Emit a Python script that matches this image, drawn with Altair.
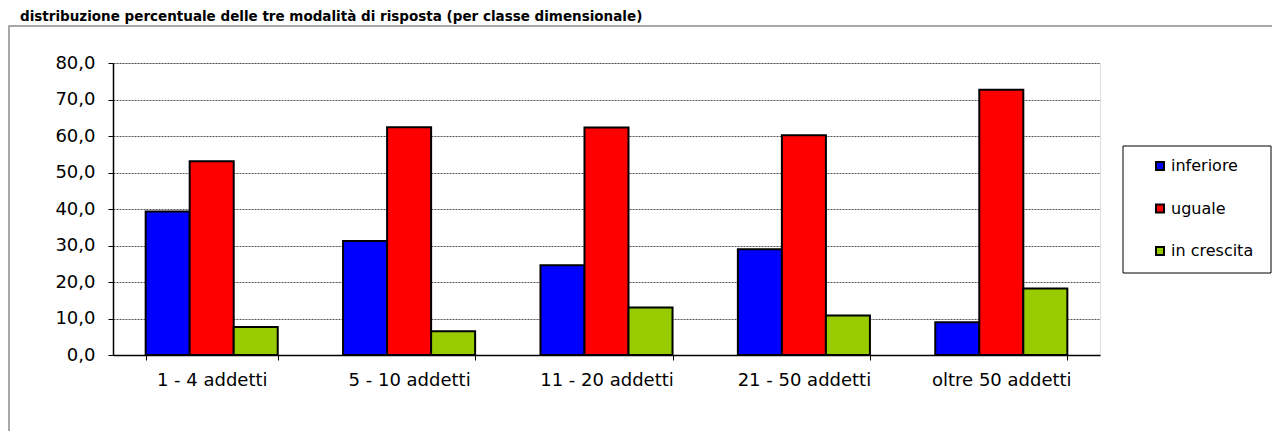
import altair as alt
import pandas as pd

categories = ["1 - 4 addetti", "5 - 10 addetti", "11 - 20 addetti", "21 - 50 addetti", "oltre 50 addetti"]
series = ["inferiore", "uguale", "in crescita"]
inferiore = [39.3, 31.2, 24.6, 29.0, 9.0]
uguale = [53.1, 62.4, 62.3, 60.2, 72.7]
in_crescita = [7.7, 6.5, 13.0, 10.8, 18.2]
colors = ["#0000FF", "#FF0000", "#99CC00"]
y_ticks = [0, 10, 20, 30, 40, 50, 60, 70, 80]
title_text = "distribuzione percentuale delle tre modalità di risposta (per classe dimensionale)"

rows = []
for s, vals in zip(series, [inferiore, uguale, in_crescita]):
    for c, v in zip(categories, vals):
        rows.append({"classe": c, "serie": s, "valore": v})
df = pd.DataFrame(rows)

W, H = 987, 292
FONT = "DejaVu Sans"

bars = alt.Chart(df).mark_bar(stroke="black", strokeWidth=2).encode(
    x=alt.X("classe:N", sort=categories,
            scale=alt.Scale(paddingInner=0.331, paddingOuter=0.1655),
            axis=alt.Axis(title=None, labelAngle=0, labelFontSize=18, labelColor="black",
                          labelPadding=11, tickBand="extent", tickSize=5, tickColor="black",
                          domainColor="black", domainWidth=1.5, labelFont=FONT)),
    xOffset=alt.XOffset("serie:N", sort=series, scale=alt.Scale(paddingInner=0, paddingOuter=0)),
    y=alt.Y("valore:Q", scale=alt.Scale(domain=[0, 80], nice=False),
            axis=alt.Axis(title=None, values=y_ticks,
                          labelExpr="replace(format(datum.value, '.1f'), '.', ',')",
                          labelFontSize=18, labelColor="black", labelPadding=13, labelFont=FONT,
                          tickSize=5, tickColor="black", domainColor="black", domainWidth=1.5,
                          grid=True, gridColor="#555555", gridDash=[2, 1], gridWidth=1)),
    color=alt.Color("serie:N", sort=series,
                    scale=alt.Scale(domain=series, range=colors),
                    legend=alt.Legend(title=None, orient="none", legendX=1039, legendY=95,
                                      direction="vertical", symbolType="square", symbolSize=64,
                                      symbolStrokeColor="black", symbolStrokeWidth=2,
                                      symbolOpacity=1, labelFontSize=16, labelFont=FONT,
                                      labelColor="black", labelOffset=3, rowPadding=26.5,
                                      padding=0)),
)

one = pd.DataFrame({"a": [0]})

frame = alt.Chart(one).mark_rect(fill="white", fillOpacity=0, stroke="#8c8c8c", strokeWidth=1.5).encode(
    x=alt.value(-104), x2=alt.value(1250), y=alt.value(-37), y2=alt.value(500)
)

legend_box = alt.Chart(one).mark_rect(fill="white", stroke="black", strokeWidth=1).encode(
    x=alt.value(1010), x2=alt.value(1158), y=alt.value(83), y2=alt.value(210)
)

title = alt.Chart(one).mark_text(text=title_text, font=FONT, fontWeight="bold", fontSize=13.5,
                                 align="left", baseline="alphabetic", color="black").encode(
    x=alt.value(-93), y=alt.value(-42)
)

chart = alt.layer(frame, legend_box, bars, title).properties(
    width=W, height=H,
    autosize=alt.AutoSizeParams(type="none"),
    padding={"left": 105, "top": 55, "right": 172, "bottom": 76},
).configure_view(stroke="#808080", strokeWidth=2).configure(font=FONT, background="white")

chart.save("out.html", embed_options={"renderer": "svg", "actions": False})
